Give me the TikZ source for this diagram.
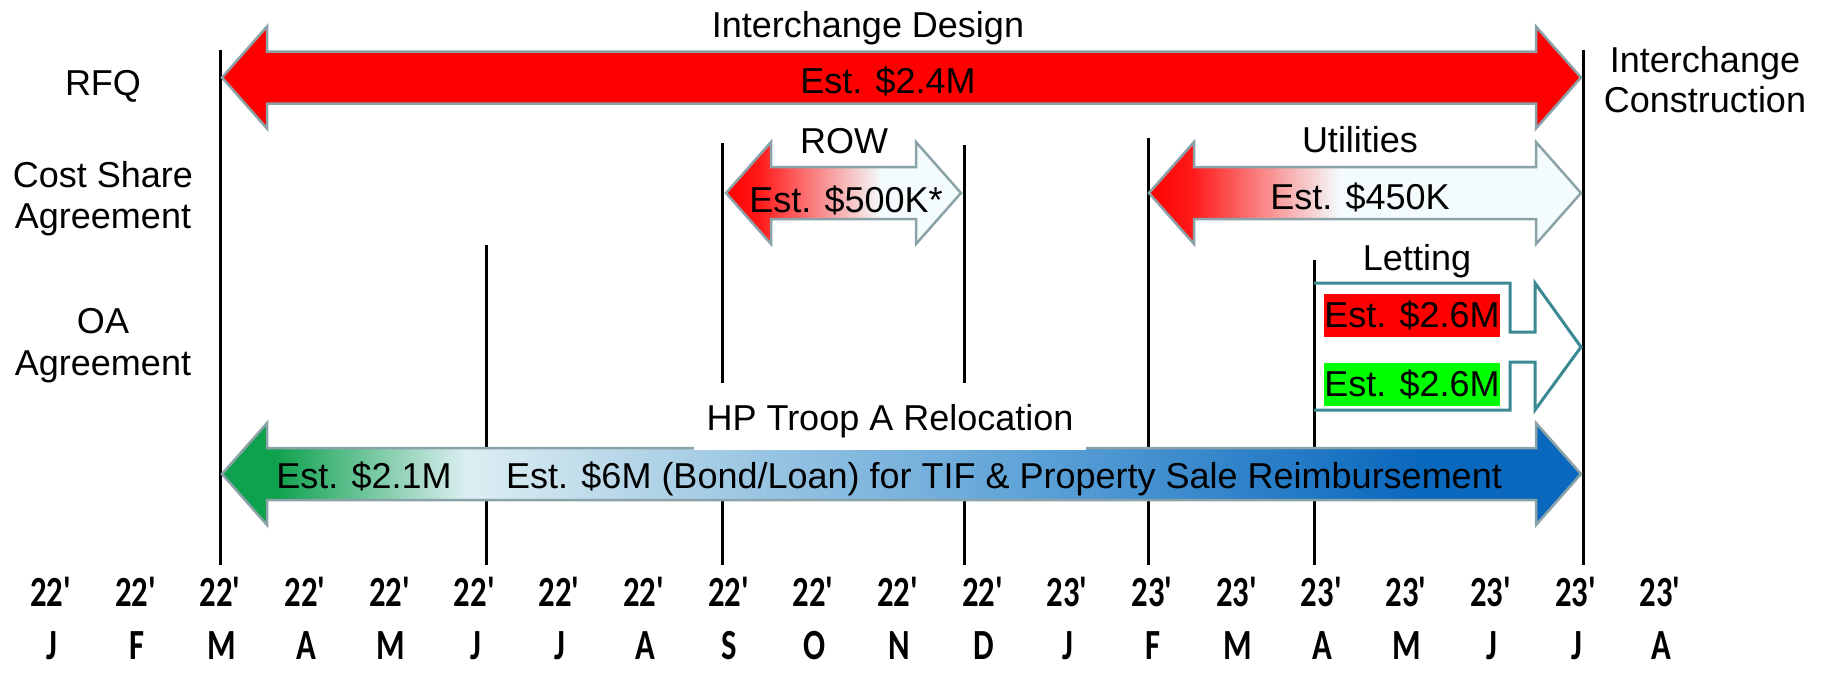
\documentclass[tikz,border=0pt]{standalone}
\usepackage{fontspec}
\setmainfont{Liberation Sans}
\newfontfamily\monthfont[FakeStretch=0.76]{Carlito}
\usetikzlibrary{positioning}
\definecolor{ink}{HTML}{000000}
\definecolor{edge}{HTML}{8BA3A8}
\definecolor{lettingteal}{HTML}{3A8993}
\definecolor{hot}{HTML}{FF0000}
\definecolor{lime}{HTML}{00FF00}
\definecolor{pale}{HTML}{F4FBFC}
\definecolor{hotsoft}{HTML}{FF1A1A}
\definecolor{hpgreen}{HTML}{0FA24E}
\definecolor{hplight}{HTML}{DCEEF2}
\definecolor{hpsky}{HTML}{B6D6E8}
\definecolor{hpmid}{HTML}{62A5D8}
\definecolor{hpblue}{HTML}{0A68BE}
% fades run over the bounding box, 25bp = left end, 75bp = right end
\pgfdeclarehorizontalshading{rowfade}{100bp}{color(0bp)=(hot); color(25bp)=(hot); color(32bp)=(hotsoft); color(58bp)=(pale); color(100bp)=(pale)}
\pgfdeclarehorizontalshading{utilfade}{100bp}{color(0bp)=(hot); color(25bp)=(hot); color(30bp)=(hotsoft); color(47bp)=(pale); color(100bp)=(pale)}
\pgfdeclarehorizontalshading{hpfade}{100bp}{color(0bp)=(hpgreen); color(25bp)=(hpgreen); color(27bp)=(hpgreen); color(34bp)=(hplight); color(40bp)=(hpsky); color(54bp)=(hpmid); color(69bp)=(hpblue); color(100bp)=(hpblue)}
\tikzset{
  every node/.style={text=ink},
  lbl/.style={font=\fontsize{18pt}{21.6pt}\selectfont,inner sep=0pt,anchor=base},
  month/.style={font=\monthfont\bfseries\fontsize{21.5pt}{25pt}\selectfont,inner sep=0pt,anchor=base},
  gridline/.style={draw=ink,line width=1.5pt},
  band/.style={draw=edge,line width=1.25pt},
  costbox/.style={lbl,text height=16.5pt,text depth=5pt},
  outline/.style={draw=lettingteal,line width=1.5pt},
}
% block arrow with two heads: style, left x, right x, middle y
\newcommand{\blockarrow}[4]{%
  \path[#1] (#2,#4) -- ({#2+45},{#4-51}) -- ({#2+45},{#4-26}) -- ({#3-45},{#4-26})
    -- ({#3-45},{#4-51}) -- (#3,#4) -- ({#3-45},{#4+51}) -- ({#3-45},{#4+26})
    -- ({#2+45},{#4+26}) -- ({#2+45},{#4+51}) -- cycle;}

\begin{document}
\begin{tikzpicture}[x=0.5pt,y=-0.5pt]
\useasboundingbox (0,0) rectangle (1828,682);

% month grid
\foreach \x/\top in {220/50,486/245,722/143,964/145,1148/138,1314/260,1583/50}
  \draw[gridline] (\x,\top) -- (\x,565);
\foreach [count=\i from 0] \m/\yr in {J/22,F/22,M/22,A/22,M/22,J/22,J/22,A/22,S/22,O/22,N/22,D/22,J/23,F/23,M/23,A/23,M/23,J/23,J/23,A/23}{
  \node[month] (yr\i) at ({52+84.7*\i},606) {\yr\textquotesingle};
  \node[month] (mo\i) at ({52+84.7*\i},659) {\m};
}

% phases
\blockarrow{band,fill=hot}{222}{1581}{77.5}
\blockarrow{band,shade,shading=rowfade}{726}{961}{193}
\blockarrow{band,shade,shading=utilfade}{1149}{1581}{193}
\blockarrow{band,shade,shading=hpfade}{222}{1581}{474}
\draw[outline] (1314,283) -- (1510,283) -- (1510,332) -- (1535,332) -- (1535,283) -- (1581,347)
  -- (1535,410) -- (1535,362) -- (1510,362) -- (1510,410) -- (1314,410);

% row titles
\node[lbl] (rfq) at (103,95) {RFQ};
\node[lbl] (cost) at (103,187) {Cost Share};
\node[lbl] (costagr) at ([yshift=-20.5pt]cost.base) {Agreement};
\node[lbl] (oa) at (103,333) {OA};
\node[lbl] (oaagr) at ([yshift=-21pt]oa.base) {Agreement};
\node[lbl] (constr) at (1705,72) {Interchange};
\node[lbl] (constrb) at ([yshift=-20pt]constr.base) {Construction};

% phase labels
\node[lbl] (design) at (868,37.5) {Interchange Design};
\node[lbl] (designcost) at (888,93) {Est. \$2.4M};
\node[lbl] (row) at (844,153) {ROW};
\node[lbl] (rowcost) at (846,212) {Est. \$500K*};
\node[lbl] (util) at (1360,152) {Utilities};
\node[lbl] (utilcost) at (1360,209) {Est. \$450K};
\node[lbl] (let) at (1417,270) {Letting};
\node[costbox,fill=hot] (letred) at (1412,327) {Est. \$2.6M};
\node[costbox,fill=lime] (letgreen) at (1412,396) {Est. \$2.6M};
\node[lbl,fill=white,inner xsep=6.5pt,text height=23.5pt,text depth=10pt] (hp) at (890,430) {HP Troop A Relocation};
\node[lbl] (hpsale) at (364,488) {Est. \$2.1M};
\node[lbl] (hpcost) at (1004,488) {Est. \$6M (Bond/Loan) for TIF \& Property Sale Reimbursement};

\end{tikzpicture}
\end{document}
